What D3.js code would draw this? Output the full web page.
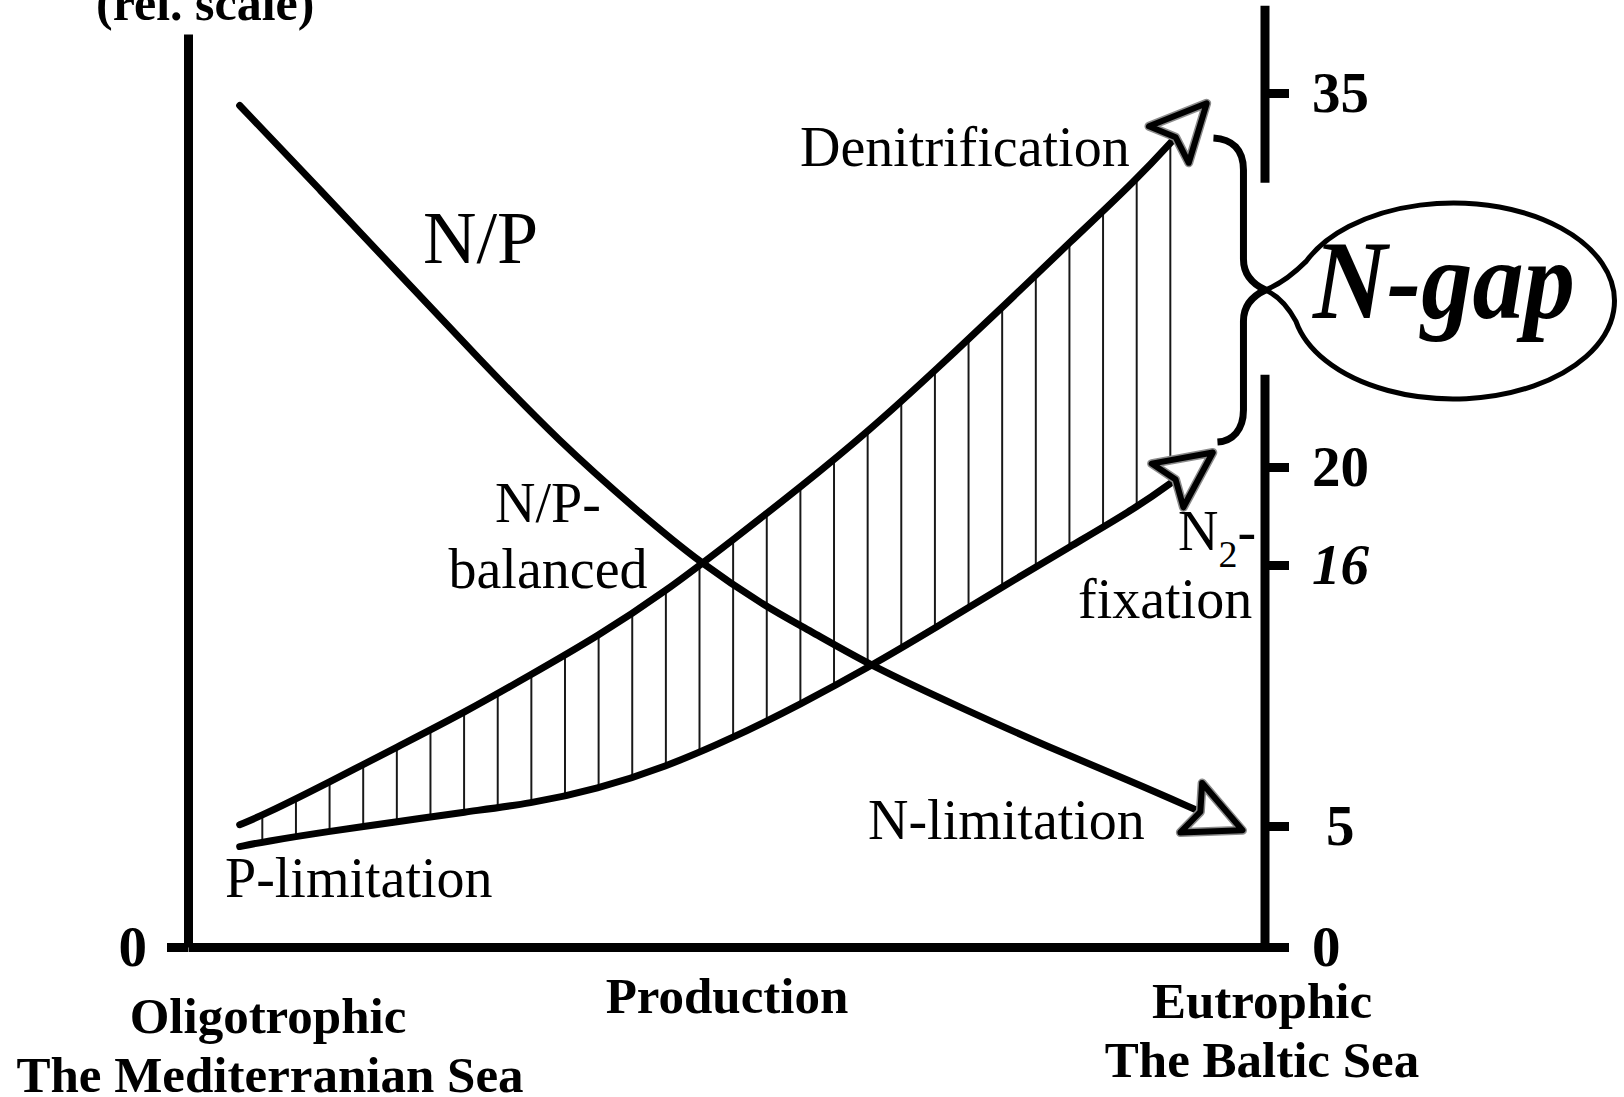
<!DOCTYPE html>
<html>
<head>
<meta charset="utf-8">
<script src="https://cdn.jsdelivr.net/npm/d3@7"></script>
<style>
  html, body { margin: 0; padding: 0; background: #fff; }
  svg { display: block; }
  text { font-family: "Liberation Serif", "Times New Roman", serif; fill: #000; }
</style>
</head>
<body>
<svg id="chart" width="1624" height="1097"></svg>
<script>
// production axis runs 0..100 (relative), left axis is a relative scale 0..100,
// right axis is the N/P ratio
const productionSteps = [4.8, 6.9, 13.2, 19.4, 25.7, 31.8, 38.0, 44.3, 50.6, 56.9, 63.3, 69.6, 76.0, 81.8, 88.2, 91.7];
const denitrification = [13.4, 14.4, 18.1, 21.9, 25.7, 29.8, 34.0, 38.9, 44.6, 50.4, 56.6, 63.4, 70.5, 77.1, 84.2, 88.7];
const n2Fixation = [11.0, 11.5, 12.7, 13.7, 14.8, 15.7, 17.3, 19.7, 22.9, 26.6, 30.7, 35.1, 39.7, 43.8, 48.2, 51.2];

const npSteps = [4.8, 12.3, 19.7, 27.1, 34.5, 42.0, 47.5, 53.8, 57.5, 63.6, 71.7, 80.0, 87.5, 94.0];
const npRatio = [34.5, 31.1, 27.7, 24.3, 21.0, 18.1, 16.1, 14.2, 13.3, 11.7, 10.0, 8.3, 6.9, 5.6];

const npTicks = [0, 5, 16, 20, 35];
const relTicks = [0];
const nGapRange = [21.0, 33.2];
const npAxisBreak = [23.7, 31.4];
const npAxisTop = 38.5;

const svg = d3.select("#chart");
const width = +svg.attr("width");
const height = +svg.attr("height");
const serif = '"Liberation Serif", "Times New Roman", serif';

const margin = { top: 34, right: 359, bottom: 150, left: 188 };
const innerWidth = width - margin.left - margin.right;
const innerHeight = height - margin.top - margin.bottom;

const root = svg
  .append("g")
  .attr("transform", `translate(${margin.left}, ${margin.top})`);

const x = d3.scaleLinear().domain([0, 100]).range([0, innerWidth]);
const yRel = d3.scaleLinear().domain([0, 100]).range([innerHeight, 0]);
// the printed N/P axis is not quite linear, so the ticks keep their printed places
const yNP = d3
  .scaleLinear()
  .domain(npTicks)
  .range([innerHeight, innerHeight - 121, innerHeight - 382, innerHeight - 480, innerHeight - 854]);

const defs = svg.append("defs");
const hatchStep = 33.63;

defs
  .append("pattern")
  .attr("id", "hatch")
  .attr("patternUnits", "userSpaceOnUse")
  .attr("x", x(productionSteps[1]) - hatchStep / 2)
  .attr("y", 0)
  .attr("width", hatchStep)
  .attr("height", height)
  .append("line")
  .attr("x1", hatchStep / 2)
  .attr("x2", hatchStep / 2)
  .attr("y1", 0)
  .attr("y2", height)
  .attr("stroke", "#000")
  .attr("stroke-width", 1.8);

const arrowShape = "M0,0 L-10,-27 L46,0 L-10,27 Z";
const marker = defs
  .append("marker")
  .attr("id", "arrow")
  .attr("viewBox", "-20 -40 80 80")
  .attr("markerWidth", 80)
  .attr("markerHeight", 80)
  .attr("markerUnits", "userSpaceOnUse")
  .attr("refX", 0)
  .attr("refY", 0)
  .attr("orient", "auto");

marker
  .append("path")
  .attr("d", arrowShape)
  .attr("fill", "#fff")
  .attr("stroke", "#8c8c8c")
  .attr("stroke-width", 9)
  .attr("stroke-linejoin", "round");

marker
  .append("path")
  .attr("d", arrowShape)
  .attr("fill", "none")
  .attr("stroke", "#000")
  .attr("stroke-width", 6)
  .attr("stroke-linejoin", "round");

const rows = productionSteps.map((p, i) => ({
  p,
  up: denitrification[i],
  low: n2Fixation[i]
}));
const npRows = npSteps.map((p, i) => ({ p, v: npRatio[i] }));

// hatched N-gap between the two curves
root
  .append("path")
  .datum(rows)
  .attr("fill", "url(#hatch)")
  .attr(
    "d",
    d3
      .area()
      .x(d => x(d.p))
      .y0(d => yRel(d.low))
      .y1(d => yRel(d.up))
      .curve(d3.curveBasis)
  );

const curveLayer = root.append("g").attr("class", "curves");

[["up", "denitrification"], ["low", "fixation"]].forEach(([key, cls]) => {
  curveLayer
    .append("path")
    .datum(rows)
    .attr("class", cls)
    .attr("fill", "none")
    .attr("stroke", "#000")
    .attr("stroke-width", 7)
    .attr("stroke-linecap", "round")
    .attr("marker-end", "url(#arrow)")
    .attr(
      "d",
      d3
        .line()
        .x(d => x(d.p))
        .y(d => yRel(d[key]))
        .curve(d3.curveBasis)
    );
});

curveLayer
  .append("path")
  .datum(npRows)
  .attr("fill", "none")
  .attr("stroke", "#000")
  .attr("stroke-width", 7)
  .attr("stroke-linecap", "round")
  .attr("marker-end", "url(#arrow)")
  .attr(
    "d",
    d3
      .line()
      .x(d => x(d.p))
      .y(d => yNP(d.v))
      .curve(d3.curveBasis)
  );

// axes
function styleAxis(g) {
  g.attr("font-family", serif).attr("font-size", 57).attr("font-weight", "bold");
  g.selectAll("line").attr("stroke-width", 9);
  g.selectAll(".domain").attr("stroke-width", 9);
  g.selectAll("text").attr("fill", "#000");
}

root
  .append("g")
  .attr("transform", `translate(0, ${innerHeight})`)
  .call(d3.axisBottom(x).tickValues([]).tickSizeOuter(0))
  .call(styleAxis);

root
  .append("g")
  .call(d3.axisLeft(yRel).tickValues(relTicks).tickSize(21).tickSizeOuter(0).tickPadding(20))
  .call(styleAxis);

const rightAxis = root
  .append("g")
  .attr("transform", `translate(${innerWidth}, 0)`)
  .call(
    d3
      .axisRight(yNP)
      .tickValues(npTicks)
      .tickSize(24)
      .tickPadding(23)
      .tickFormat(d3.format("d"))
  )
  .call(g => g.select(".domain").remove())
  .call(styleAxis);

rightAxis
  .selectAll(".tick text")
  .attr("font-style", d => (d === 16 ? "italic" : "normal"))
  .attr("dx", d => (d === 5 ? 14 : 0));

rightAxis
  .selectAll(".segment")
  .data([[0, npAxisBreak[0]], [npAxisBreak[1], npAxisTop]])
  .join("line")
  .attr("class", "segment")
  .attr("x1", 0)
  .attr("x2", 0)
  .attr("y1", d => yNP(d[0]) + (d[0] === 0 ? 4.5 : 0))
  .attr("y2", d => yNP(d[1]))
  .attr("stroke", "#000")
  .attr("stroke-width", 9);

// brace round the N-gap and the bubble
const bx = x(98);
const bTop = yNP(nGapRange[1]);
const bBot = yNP(nGapRange[0]);
const bMid = (bTop + bBot) / 2;
const tipX = bx + 22;

const brace = d3.path();
brace.moveTo(bx - 30, bTop);
brace.bezierCurveTo(bx - 11, bTop + 1, bx, bTop + 12, bx, bTop + 32);
brace.lineTo(bx, bMid - 31);
brace.bezierCurveTo(bx, bMid - 15, bx + 9, bMid - 6, tipX, bMid);
brace.bezierCurveTo(bx + 9, bMid + 6, bx, bMid + 15, bx, bMid + 31);
brace.lineTo(bx, bBot - 32);
brace.bezierCurveTo(bx, bBot - 12, bx - 11, bBot - 1, bx - 26, bBot);

root
  .append("path")
  .attr("d", brace.toString())
  .attr("fill", "none")
  .attr("stroke", "#000")
  .attr("stroke-width", 7)
  .attr("stroke-linecap", "butt");

const ecx = tipX + 188;
const ecy = bMid + 11;
const rx = 161;
const ry = 98;
const a1 = (24 * Math.PI) / 180;
const a2 = (12 * Math.PI) / 180;
const j1 = [ecx - rx * Math.cos(a1), ecy - ry * Math.sin(a1)];
const j2 = [ecx - rx * Math.cos(a2), ecy + ry * Math.sin(a2)];

root
  .append("path")
  .attr(
    "d",
    `M${tipX},${bMid} Q${tipX + 20},${bMid - 8} ${j1[0]},${j1[1]} ` +
      `A${rx},${ry} 0 1 1 ${j2[0]},${j2[1]} Q${tipX + 18},${bMid + 8} ${tipX},${bMid}`
  )
  .attr("fill", "#fff")
  .attr("stroke", "#000")
  .attr("stroke-width", 5);

// texts
function label(px, py, txt, size, opts = {}) {
  return svg
    .append("text")
    .attr("x", px)
    .attr("y", py)
    .attr("font-size", size)
    .attr("font-weight", opts.weight || "normal")
    .attr("font-style", opts.style || "normal")
    .attr("text-anchor", opts.anchor || "start")
    .text(txt);
}

label(96, 20, "(rel. scale)", 50, { weight: "bold" });
label(423, 263, "N/P", 74);
label(800, 166, "Denitrification", 56);
label(548, 522, "N/P-", 56, { anchor: "middle" });
label(548, 588, "balanced", 56, { anchor: "middle" });
label(225, 897, "P-limitation", 56);
label(868, 839, "N-limitation", 56);
label(1078, 618, "fixation", 56);

const n2 = label(1178, 550, "N", 56);
n2.append("tspan").attr("font-size", 38).attr("dy", 17).text("2");
n2.append("tspan").attr("font-size", 56).attr("dy", -17).text("-");

label(1444, 318, "N-gap", 112, { weight: "bold", style: "italic", anchor: "middle" })
  .attr("textLength", 262)
  .attr("lengthAdjust", "spacingAndGlyphs");

label(727, 1013, "Production", 51, { weight: "bold", anchor: "middle" });
label(268, 1033, "Oligotrophic", 51, { weight: "bold", anchor: "middle" });
label(270, 1092, "The Mediterranian Sea", 51, { weight: "bold", anchor: "middle" });
label(1262, 1018, "Eutrophic", 51, { weight: "bold", anchor: "middle" });
label(1262, 1077, "The Baltic Sea", 51, { weight: "bold", anchor: "middle" });
</script>
</body>
</html>
